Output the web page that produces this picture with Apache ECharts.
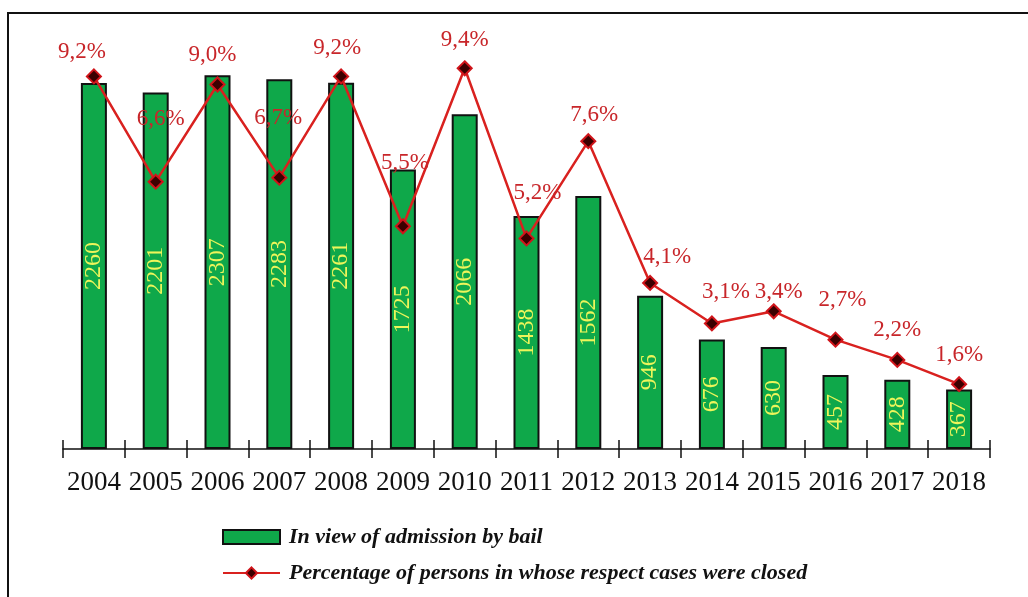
<!DOCTYPE html>
<html>
<head>
<meta charset="utf-8">
<script src="https://cdn.jsdelivr.net/npm/echarts@6/dist/echarts.min.js"></script>
<style>
  html, body { margin: 0; padding: 0; background: #fff; }
  #chart { width: 1028px; height: 597px; }
</style>
</head>
<body>
<div id="chart"></div>
<script>
// Years on the category axis
const years = ['2004', '2005', '2006', '2007', '2008', '2009', '2010', '2011',
               '2012', '2013', '2014', '2015', '2016', '2017', '2018'];

// Persons released in view of admission by bail
const bailCounts = [2260, 2201, 2307, 2283, 2261, 1725, 2066, 1438,
                    1562, 946, 676, 630, 457, 428, 367];

// Percentage of persons in whose respect cases were closed
const closedPercent = [9.2, 6.6, 9.0, 6.7, 9.2, 5.5, 9.4, 5.2,
                       7.6, 4.1, 3.1, 3.4, 2.7, 2.2, 1.6];

// Series names shown in the legend
const barName = 'In view of admission by bail';
const lineName = 'Percentage of persons in whose respect cases were closed';

// Per-point nudges for the percentage labels (layout only)
const pctLabelShift = [[-12, -24], [5, -63], [-5, -30], [-1, -60], [-4, -28],
                       [2, -63], [0, -28], [11, -45], [6, -26], [17, -26],
                       [14, -31], [5, -19], [7, -40], [0, -30], [0, -29]];

const serif = '"Liberation Serif", "DejaVu Serif", serif';

const chart = echarts.init(document.getElementById('chart'), null, { renderer: 'canvas' });

chart.setOption({
  backgroundColor: '#ffffff',
  animation: false,
  graphic: [{
    type: 'rect',
    shape: { x: 8, y: 13, width: 1200, height: 800 },
    style: { fill: 'none', stroke: '#111', lineWidth: 2 },
    silent: true
  }],
  grid: { left: 63, right: 38, top: 44, bottom: 148, containLabel: false },
  legend: {
    orient: 'vertical',
    left: 217,
    top: 521,
    itemWidth: 57,
    itemHeight: 14,
    itemGap: 14,
    data: [{ name: barName, icon: 'rect' }, { name: lineName }],
    textStyle: {
      fontFamily: serif,
      fontStyle: 'italic',
      fontWeight: 'bold',
      fontSize: 22,
      color: '#111',
      padding: [0, 0, 0, 4]
    }
  },
  xAxis: [{
    type: 'category',
    data: years,
    position: 'bottom',
    axisLine: { lineStyle: { color: '#111', width: 1.5 } },
    axisTick: { show: true, length: 9, lineStyle: { color: '#111', width: 1.5 } },
    axisLabel: { interval: 0, fontFamily: serif, fontSize: 27, color: '#111', margin: 20 }
  }, {
    type: 'category',
    data: years,
    position: 'bottom',
    axisLine: { show: false },
    axisTick: { show: true, inside: true, length: 9, lineStyle: { color: '#111', width: 1.5 } },
    axisLabel: { show: false }
  }],
  yAxis: [{
    type: 'value', min: 0, max: 2500, show: false, splitLine: { show: false }
  }, {
    type: 'value', min: 0, max: 10, show: false, splitLine: { show: false }
  }],
  series: [{
    name: barName,
    type: 'bar',
    data: bailCounts,
    barWidth: 26,
    itemStyle: { color: '#0fa84a', borderColor: '#111', borderWidth: 2 },
    label: {
      show: true,
      position: 'inside',
      rotate: 90,
      fontFamily: serif,
      fontSize: 24,
      color: '#eef55a'
    },
    z: 2
  }, {
    name: lineName,
    type: 'line',
    yAxisIndex: 1,
    data: closedPercent.map((v, i) => ({
      value: v,
      label: { offset: pctLabelShift[i] }
    })),
    symbol: 'diamond',
    symbolSize: 14,
    lineStyle: { color: '#d9211f', width: 2.5 },
    itemStyle: { color: '#3b0000', borderColor: '#d0141a', borderWidth: 2 },
    label: {
      show: true,
      position: 'inside',
      fontFamily: serif,
      fontSize: 23,
      color: '#c8262a',
      formatter: p => p.value.toFixed(1).replace('.', ',') + '%'
    },
    z: 5
  }]
});
</script>
</body>
</html>
